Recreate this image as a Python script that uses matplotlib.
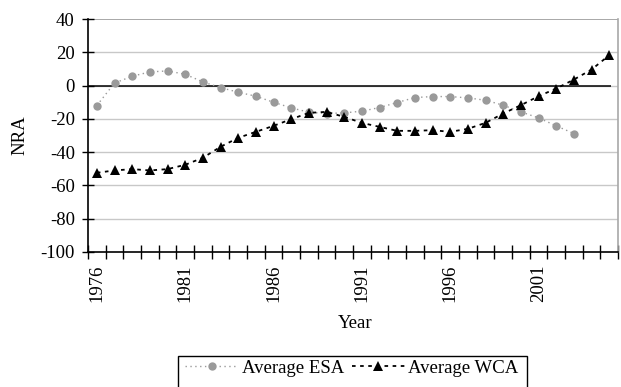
import matplotlib
matplotlib.use("Agg")
import matplotlib.pyplot as plt
from matplotlib.patches import Rectangle
import numpy as np

years_esa = list(range(1976, 2004))
esa = [-12, 1.5, 5.6, 8.2, 8.8, 6.8, 2.2, -1.2, -4, -6.4, -10, -13.4, -16,
       -16.8, -16.4, -15.4, -13.2, -10.2, -7.2, -6.6, -6.6, -7.4, -8.8,
       -11.8, -15.8, -19.4, -24.2, -28.8]
years_wca = list(range(1976, 2006))
wca = [-52.4, -51, -50.2, -51, -50.2, -47.6, -43.4, -36.8, -31.4, -27.8,
       -24.2, -20.2, -16.4, -15.8, -18.8, -22.4, -24.8, -27.2, -27.2, -26.8,
       -27.8, -26, -22.4, -16.8, -11.8, -6.4, -1.8, 3.6, 9.6, 18.2]
label_years = [1976, 1981, 1986, 1991, 1996, 2001]
y_ticks = [-100, -80, -60, -40, -20, 0, 20, 40]

plt.rcParams['font.family'] = ['Liberation Serif', 'DejaVu Serif']
plt.rcParams['font.size'] = 13.5

fig = plt.figure(figsize=(6.21, 3.87), dpi=100)
ax = fig.add_axes([88/621, 1-252/387, (618-88)/621, (252-19)/387])

ax.set_xlim(1975.5, 2005.5)
ax.set_ylim(-100, 40)

for yv in y_ticks[1:-1]:
    ax.axhline(yv, color='#c8c8c8', lw=1.0, zorder=1)
ax.axhline(40, color='#a8a8a8', lw=1.4, zorder=1)
ax.hlines(0, 1975.5, 2005.1, color='black', lw=1.1, zorder=2)

ax.plot(years_esa, esa, linestyle=(0, (1, 2.5)), color='#9a9a9a', lw=1.0,
        marker='o', markersize=6.0, markeredgewidth=0, label='Average ESA', zorder=3)
ax.plot(years_wca, wca, linestyle=(0, (2, 2.5)), color='black', lw=1.3,
        marker='^', markersize=7.0, markeredgewidth=0, label='Average WCA', zorder=4)

ax.set_xticks(label_years)
ax.set_xticklabels([str(y) for y in label_years], rotation=90)
ax.set_xticks(np.arange(1975.5, 2006, 1.0), minor=True)
ax.tick_params(axis='x', which='major', length=0, pad=9)
ax.tick_params(axis='x', which='minor', direction='inout', length=10, width=1)
ax.set_yticks(y_ticks)
ax.set_yticklabels([str(v) for v in y_ticks])
ax.tick_params(axis='y', direction='inout', length=9, width=1, pad=5)

for s in ['left', 'bottom']:
    ax.spines[s].set_color('black')
    ax.spines[s].set_linewidth(1.2)
ax.spines['top'].set_visible(False)
ax.spines['right'].set_color('#a8a8a8')
ax.spines['right'].set_linewidth(1.2)

fig.text(20/621, 1-135/387, 'NRA', rotation=90, ha='center', va='center')
fig.text(355/621, 1-323/387, 'Year', ha='center', va='center')

leg = fig.legend(loc='center', bbox_to_anchor=(352/621, 1-368/387), ncol=2,
                 frameon=False, handlelength=2.8,
                 columnspacing=0.45, handletextpad=0.2, borderpad=0.3,
                 borderaxespad=0)
fig.patches.append(Rectangle((178/621, -0.02), (527-178)/621, 0.02 + 1-356/387,
                             transform=fig.transFigure, fill=False,
                             edgecolor='black', lw=1.0))

fig.savefig('out.png', dpi=100)
